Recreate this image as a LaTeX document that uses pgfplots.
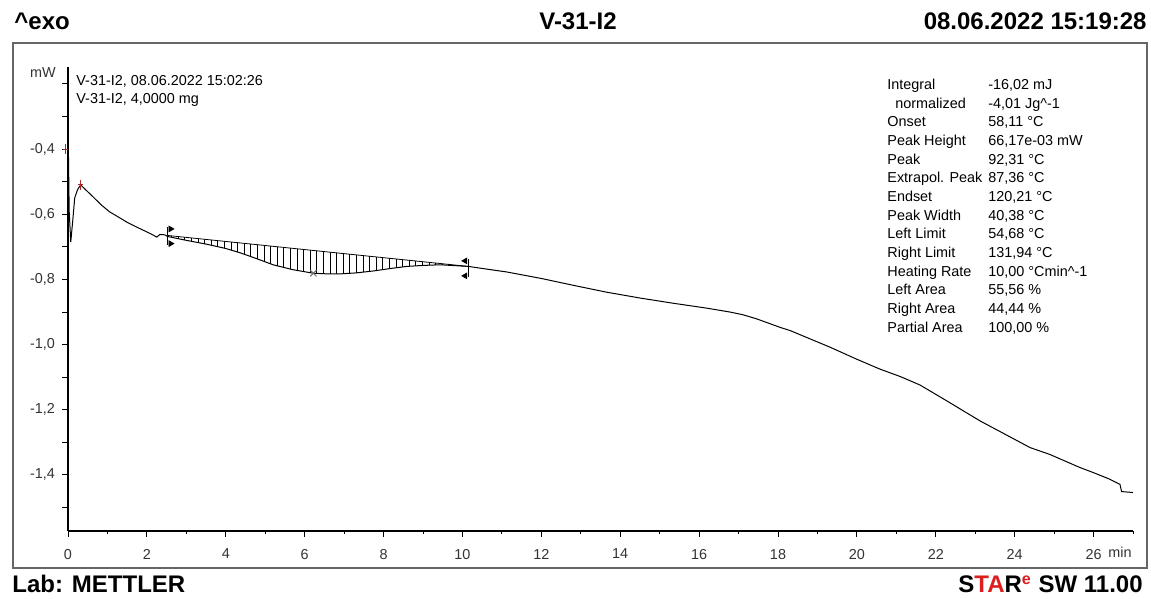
\documentclass[border=0pt]{standalone}
\usepackage{fontspec}
\setmainfont{Liberation Sans}
\usepackage{pgfplots}
\pgfplotsset{compat=1.18}
\usepgfplotslibrary{fillbetween}
\usetikzlibrary{patterns.meta}
\definecolor{starred}{RGB}{220,30,30}
\definecolor{markred}{RGB}{170,40,40}
\newcommand\dscfont{\fontsize{7.2}{9.33}\selectfont}
\begin{document}
\begin{tikzpicture}
% page size
\path (0,0) rectangle (575.5pt,299.5pt);
% outer frame
\draw[black!60, line width=0.8pt] (6.5pt,15.5pt) rectangle (573.5pt,278pt);
\begin{axis}[
  at={(34pt,34pt)}, anchor=south west,
  scale only axis, width=532.5pt, height=232pt,
  xmin=0, xmax=27, ymin=-1.572, ymax=-0.148,
  clip=false,
  axis x line=bottom, axis y line=left,
  axis line style={-, line width=0.6pt},
  tick align=outside, major tick length=3pt, minor tick length=1.7pt,
  tick style={black, line width=0.5pt},
  xtick={0,2,...,26}, minor xtick={1,3,...,27},
  xticklabels={0,2,4,6,8,10,12,14,16,18,20,22,24,26},
  ytick={-1.5,-1.4,-1.3,-1.2,-1.1,-1.0,-0.9,-0.8,-0.7,-0.6,-0.5,-0.4,-0.3,-0.2},
  yticklabels={,{-1,4},,{-1,2},,{-1,0},,{-0,8},,{-0,6},,{-0,4},,},
  ticklabel style={font=\dscfont, text=black!80},
  xticklabel style={yshift=-2.5pt},
]
% analysed peak: baseline and the curve below it
\addplot[black, line width=0.4pt, name path=base] coordinates {(2.52,-0.665) (10.15,-0.760)};
\addplot[draw=none, name path=low] coordinates {
 (2.52,-0.668) (3.00,-0.680) (3.52,-0.692) (4.00,-0.705) (4.36,-0.718)
 (4.80,-0.737) (5.20,-0.755) (5.70,-0.770) (6.22,-0.781) (6.60,-0.783)
 (6.89,-0.783) (7.30,-0.780) (7.74,-0.774) (8.20,-0.766) (8.59,-0.760)
 (9.00,-0.757) (9.43,-0.755) (10.15,-0.760)};
\addplot[pattern={Lines[angle=90,distance=3.3pt,line width=0.5pt]}, pattern color=black, draw=none]
  fill between[of=base and low];
% DSC curve
\addplot[black, line width=0.5pt] coordinates {
 (0.00,-0.33) (0.01,-0.40) (0.03,-0.59) (0.07,-0.685) (0.12,-0.62)
 (0.17,-0.55) (0.24,-0.525) (0.32,-0.51) (0.45,-0.525) (0.64,-0.547)
 (0.85,-0.572) (1.06,-0.593) (1.23,-0.605) (1.49,-0.624) (1.70,-0.637)
 (1.91,-0.649) (2.10,-0.660) (2.25,-0.670) (2.33,-0.662) (2.45,-0.663)
 (2.52,-0.668) (3.00,-0.680) (3.52,-0.692) (4.00,-0.705) (4.36,-0.718)
 (4.80,-0.737) (5.20,-0.755) (5.70,-0.770) (6.22,-0.781) (6.60,-0.783)
 (6.89,-0.783) (7.30,-0.780) (7.74,-0.774) (8.20,-0.766) (8.59,-0.760)
 (9.00,-0.757) (9.43,-0.755) (10.15,-0.760) (10.60,-0.768) (11.12,-0.777)
 (12.00,-0.797) (12.81,-0.818) (13.65,-0.839) (14.50,-0.857) (15.34,-0.873)
 (16.19,-0.888) (16.78,-0.900) (17.10,-0.908) (17.46,-0.921) (18.05,-0.947)
 (18.31,-0.957) (19.32,-1.008) (20.00,-1.045) (20.58,-1.075) (21.10,-1.098)
 (21.60,-1.124) (22.27,-1.172) (23.12,-1.234) (24.39,-1.316) (24.89,-1.337)
 (25.65,-1.377) (26.00,-1.393) (26.41,-1.413) (26.67,-1.429) (26.71,-1.451)
 (27.00,-1.454)};
% red markers
\addplot[only marks, mark=|, mark size=2.5pt, markred, mark options={line width=0.5pt}] coordinates {(-0.06,-0.40) (0.32,-0.51)};
\addplot[only marks, mark=-, mark size=1.2pt, markred, mark options={line width=0.5pt}] coordinates {(-0.06,-0.40) (0.32,-0.51)};
% limit markers
\addplot[black, line width=0.4pt] coordinates {(2.52,-0.640) (2.52,-0.695)};
\addplot[black, line width=0.4pt] coordinates {(10.15,-0.738) (10.15,-0.794)};
\addplot[only marks, mark=triangle*, mark size=1.6pt, black, mark options={rotate=-90}] coordinates {(2.60,-0.645) (2.60,-0.690)};
\addplot[only marks, mark=triangle*, mark size=1.6pt, black, mark options={rotate=90}] coordinates {(10.07,-0.743) (10.07,-0.789)};
\addplot[only marks, mark=x, mark size=2.2pt, black!55, mark options={line width=0.5pt}] coordinates {(6.22,-0.781)};
\end{axis}
% axis unit labels
\node[font=\dscfont, text=black!80] at (21.5pt,263pt) {mW};
\node[font=\dscfont, text=black!80, anchor=base west, inner sep=0pt] at (554pt,20.5pt) {min};
% sample info
\node[font=\dscfont, anchor=base west, inner sep=0pt] at (38pt,256.5pt) {V-31-I2, 08.06.2022 15:02:26};
\node[font=\dscfont, anchor=base west, inner sep=0pt] at (38pt,247.5pt) {V-31-I2, 4,0000 mg};
% evaluation results
\node[font=\dscfont, anchor=north west, inner sep=0pt] at (443.5pt,261.5pt) {%
\begin{tabular}{@{}p{50.5pt}@{}l@{}}
Integral & -16,02 mJ\\
\hspace{4pt}normalized & -4,01 Jg\textasciicircum-1\\
Onset & 58,11 °C\\
Peak Height & 66,17e-03 mW\\
Peak & 92,31 °C\\
Extrapol. Peak & 87,36 °C\\
Endset & 120,21 °C\\
Peak Width & 40,38 °C\\
Left Limit & 54,68 °C\\
Right Limit & 131,94 °C\\
Heating Rate & 10,00 °Cmin\textasciicircum-1\\
Left Area & 55,56 \%\\
Right Area & 44,44 \%\\
Partial Area & 100,00 \%\\
\end{tabular}};
% header and footer
\node[font=\bfseries\fontsize{12}{14}\selectfont, anchor=base west, inner sep=0pt] at (7pt,284.5pt) {\textasciicircum exo};
\node[font=\bfseries\fontsize{12}{14}\selectfont, anchor=base, inner sep=0pt] at (289pt,284.5pt) {V-31-I2};
\node[font=\bfseries\fontsize{12}{14}\selectfont, anchor=base east, inner sep=0pt] at (573.5pt,284.5pt) {08.06.2022 15:19:28};
\node[font=\bfseries\fontsize{12}{14}\selectfont, anchor=base west, inner sep=0pt] at (6pt,3pt) {Lab: METTLER};
\node[font=\bfseries\fontsize{12}{14}\selectfont, anchor=base east, inner sep=0pt] at (571.5pt,3pt)
  {S\textcolor{starred}{TA}R\textsuperscript{\textcolor{starred}{e}} SW 11.00};
\end{tikzpicture}
\end{document}
